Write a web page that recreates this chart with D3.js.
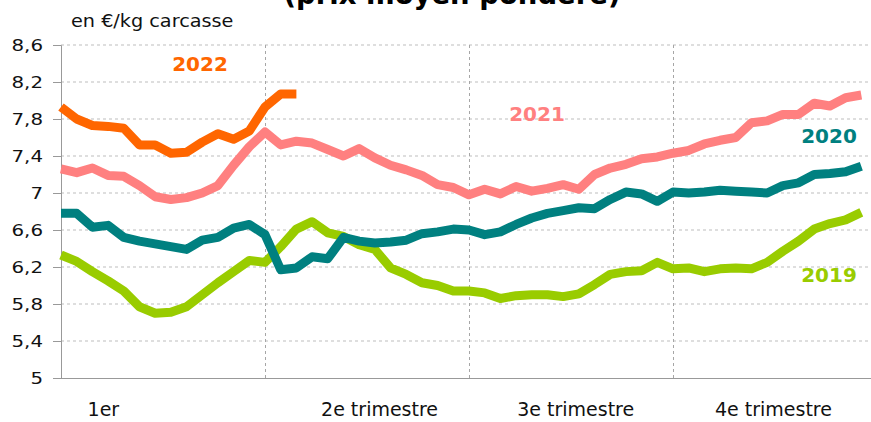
<!DOCTYPE html>
<html>
<head>
<meta charset="utf-8">
<script src="https://cdn.jsdelivr.net/npm/d3@7"></script>
<style>
  body { margin: 0; background: #fff; }
  svg { display: block; font-family: Verdana, "DejaVu Sans", sans-serif; }
</style>
</head>
<body>
<div id="chart"></div>
<script>
// weekly average price, en €/kg carcasse
var years = ["2019", "2020", "2021", "2022"];
var colors = ["#99CC00", "#008080", "#FF8080", "#FF6600"];

var s2019 = [6.33, 6.26, 6.15, 6.05, 5.94, 5.77, 5.70, 5.71, 5.77, 5.90, 6.03, 6.15, 6.27, 6.25,
             6.42, 6.61, 6.69, 6.57, 6.53, 6.44, 6.39, 6.19, 6.12, 6.03, 6.00, 5.94,
             5.94, 5.92, 5.86, 5.89, 5.90, 5.90, 5.88, 5.91, 6.01, 6.12, 6.15, 6.16, 6.25,
             6.18, 6.19, 6.15, 6.18, 6.19, 6.18, 6.25, 6.37, 6.48, 6.61, 6.67, 6.71, 6.79];
var s2020 = [6.78, 6.78, 6.63, 6.65, 6.52, 6.48, 6.45, 6.42, 6.39, 6.49, 6.52, 6.62, 6.66, 6.55,
             6.17, 6.19, 6.31, 6.29, 6.52, 6.48, 6.46, 6.47, 6.49, 6.56, 6.58, 6.61,
             6.60, 6.55, 6.58, 6.66, 6.73, 6.78, 6.81, 6.84, 6.83, 6.93, 7.01, 6.99, 6.91,
             7.01, 7.00, 7.01, 7.03, 7.02, 7.01, 7.00, 7.08, 7.11, 7.20, 7.21, 7.23, 7.29];
var s2021 = [7.26, 7.22, 7.27, 7.19, 7.18, 7.08, 6.96, 6.93, 6.95, 7.00, 7.08, 7.30, 7.50, 7.66,
             7.52, 7.56, 7.54, 7.47, 7.40, 7.48, 7.38, 7.30, 7.25, 7.19, 7.09, 7.06,
             6.98, 7.04, 6.99, 7.07, 7.02, 7.05, 7.09, 7.04, 7.20, 7.27, 7.31, 7.37, 7.39,
             7.43, 7.46, 7.53, 7.57, 7.60, 7.76, 7.78, 7.85, 7.85, 7.97, 7.94, 8.03, 8.06];
var s2022 = [7.93, 7.80, 7.73, 7.72, 7.70, 7.52, 7.52, 7.43, 7.44, 7.55, 7.64, 7.58, 7.67, 7.93,
             8.07, 8.07];

var yTicks = [5, 5.4, 5.8, 6.2, 6.6, 7, 7.4, 7.8, 8.2, 8.6];
var quarters = ["1er", "2e trimestre", "3e trimestre", "4e trimestre"];

var width = 871, height = 422;
var svg = d3.select("#chart").append("svg")
    .attr("width", width)
    .attr("height", height);

var x = d3.scaleLinear().domain([0, 52]).range([61, 877]);
var y = d3.scaleLinear().domain([5, 8.6]).range([378, 45]);

// title, mostly cut off by the frame (as in the source)
svg.append("text")
    .attr("x", 452)
    .attr("y", 4)
    .attr("text-anchor", "middle")
    .style("font-size", "27.5px")
    .style("font-weight", "bold")
    .text("(prix moyen pondéré)");

// unit, slightly stretched like the source
svg.append("text")
    .attr("transform", "translate(71,27) scale(1.1,1)")
    .style("font-size", "17.5px")
    .style("fill", "#111")
    .text("en €/kg carcasse");

// horizontal grid
svg.append("g")
    .selectAll("line")
    .data(yTicks.slice(1))
    .enter().append("line")
    .attr("x1", x(0)).attr("x2", width)
    .attr("y1", function(d) { return y(d); })
    .attr("y2", function(d) { return y(d); })
    .style("stroke", "#bdbdbd")
    .style("stroke-dasharray", "3,3");

// quarter separators
svg.append("g")
    .selectAll("line")
    .data([13, 26, 39])
    .enter().append("line")
    .attr("x1", function(d) { return Math.round(x(d)) + 0.5; })
    .attr("x2", function(d) { return Math.round(x(d)) + 0.5; })
    .attr("y1", y(8.6)).attr("y2", y(5))
    .style("stroke", "#a6a6a6")
    .style("stroke-dasharray", "3,3");

// y axis
var sx = 1.2;
var yAxis = svg.append("g")
    .attr("transform", "translate(" + x(0) + ",0)")
    .call(d3.axisLeft(y)
        .tickValues(yTicks)
        .tickSize(8)
        .tickFormat(function(d) { return String(d).replace(".", ","); }));
yAxis.select(".domain").style("stroke", "#999");
yAxis.selectAll(".tick line").style("stroke", "#999");
yAxis.selectAll("text")
    .attr("x", -18 / sx)
    .attr("transform", "scale(" + sx + ",1)")
    .style("font-family", "Verdana, 'DejaVu Sans', sans-serif")
    .style("font-size", "16.5px")
    .style("fill", "#111");

// x axis line
svg.append("line")
    .attr("x1", x(0)).attr("x2", width)
    .attr("y1", y(5) + 0.5).attr("y2", y(5) + 0.5)
    .style("stroke", "#999");

// quarter labels
var labelWeek = [2.7, 20.3, 32.8, 45.4];
svg.append("g")
    .selectAll("text")
    .data(quarters)
    .enter().append("text")
    .attr("x", function(d, i) { return x(labelWeek[i]); })
    .attr("y", 416)
    .attr("text-anchor", "middle")
    .style("font-size", "19px")
    .style("fill", "#111")
    .text(function(d) { return d; });

// lines
var line = d3.line()
    .x(function(d, i) { return x(i); })
    .y(function(d) { return y(d); });

var series = [s2019, s2020, s2021, s2022];
svg.append("g")
    .selectAll("path")
    .data(series)
    .enter().append("path")
    .attr("d", line)
    .style("fill", "none")
    .style("stroke", function(d, i) { return colors[i]; })
    .style("stroke-width", 9)
    .style("stroke-linejoin", "round");

// series labels
var labelPos = [[829, 282], [829, 143], [537, 121], [200, 71]];
svg.append("g")
    .selectAll("text")
    .data(years)
    .enter().append("text")
    .attr("x", function(d, i) { return labelPos[i][0]; })
    .attr("y", function(d, i) { return labelPos[i][1]; })
    .attr("text-anchor", "middle")
    .style("font-size", "20px")
    .style("font-weight", "bold")
    .style("fill", function(d, i) { return colors[i]; })
    .text(function(d) { return d; });
</script>
</body>
</html>
